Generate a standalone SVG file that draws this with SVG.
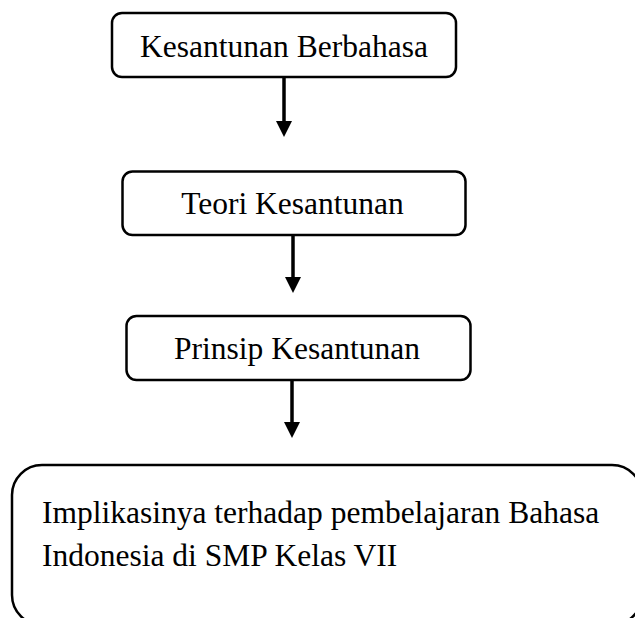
<svg xmlns="http://www.w3.org/2000/svg" width="635" height="618" viewBox="0 0 635 618">
  <style>
    .box { fill: #ffffff; stroke: #000000; stroke-width: 2.5; }
    .lbl { font-family: "Liberation Serif", "Times New Roman", serif; font-size: 31.5px; fill: #000000; }
    .mid { text-anchor: middle; }
    .conn { stroke: #000000; stroke-width: 3.5; fill: none; }
  </style>
  <defs>
    <marker id="arrow" markerUnits="userSpaceOnUse" markerWidth="16" markerHeight="16" refX="0" refY="8" orient="auto">
      <path d="M0,0 L16,8 L0,16 Z" fill="#000000"/>
    </marker>
  </defs>
  <rect width="635" height="618" fill="#ffffff"/>

  <g id="connectors">
    <line class="conn" x1="284" y1="77" x2="284" y2="121" marker-end="url(#arrow)"/>
    <line class="conn" x1="293" y1="235" x2="293" y2="277" marker-end="url(#arrow)"/>
    <line class="conn" x1="292" y1="380" x2="292" y2="422" marker-end="url(#arrow)"/>
  </g>

  <g id="node-kesantunan-berbahasa">
    <rect class="box" x="112" y="13" width="344" height="64" rx="10" ry="10"/>
    <text class="lbl mid" x="284" y="57">Kesantunan Berbahasa</text>
  </g>

  <g id="node-teori-kesantunan">
    <rect class="box" x="122.5" y="171.5" width="343" height="63.5" rx="10" ry="10"/>
    <text class="lbl mid" x="292.5" y="214">Teori Kesantunan</text>
  </g>

  <g id="node-prinsip-kesantunan">
    <rect class="box" x="126.5" y="316" width="344" height="64" rx="10" ry="10"/>
    <text class="lbl mid" x="297" y="359">Prinsip Kesantunan</text>
  </g>

  <g id="node-implikasi">
    <rect class="box" x="12" y="465" width="630" height="160" rx="30" ry="30"/>
    <text class="lbl" x="42" y="523">Implikasinya terhadap pembelajaran Bahasa</text>
    <text class="lbl" x="42" y="566">Indonesia di SMP Kelas VII</text>
  </g>
</svg>
